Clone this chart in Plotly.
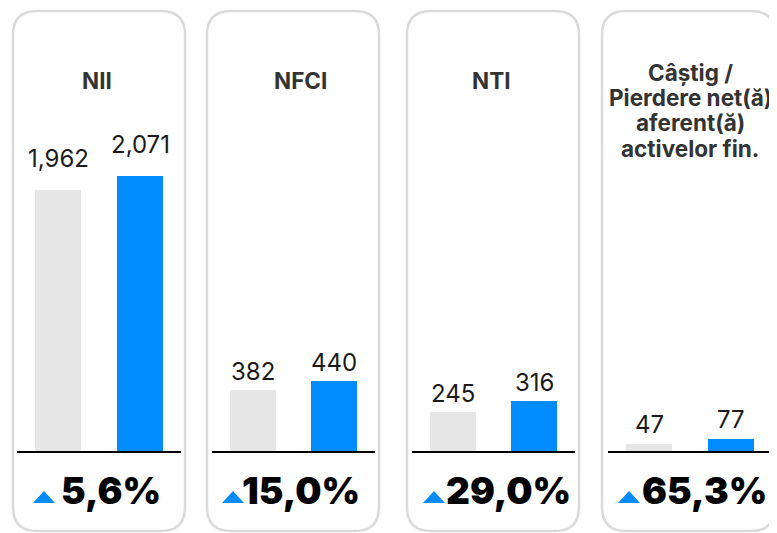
import plotly.graph_objects as go

# ---- data ----
titles = ["NII", "NFCI", "NTI", "Câștig /<br>Pierdere net(ă)<br>aferent(ă)<br>activelor fin."]
prev_values = [1962, 382, 245, 47]
curr_values = [2071, 440, 316, 77]
pct_labels = ["5,6%", "15,0%", "29,0%", "65,3%"]

# ---- layout helpers (window pixel -> paper; page body has an 8px margin) ----
W, H = 777, 533
OFF = 8
def X(px):
    return (px - OFF) / W
def Y(py):
    return 1 - (py - OFF) / H

panel_lr = [(13, 185), (207, 379), (407, 579), (602, 775)]
base_lr = [(17, 181), (212, 375), (412, 575), (608, 772)]
y_ranges = [2643, 2215, 2215, 2215]
title_xy = [(96.5, 81), (300, 81), (491, 81), (690, 72)]
title_line_gap = 25.5
label_shift = [15, 2, 2, 3]
pct_text_x = [59, 240, 444, 640]
tri_x = [33, 222, 423, 618]

GRAY = "#e6e6e6"
BLUE = "#008cff"

fig = go.Figure()
shapes = []
annotations = []

def rounded_rect(x0, y0, x1, y1, r):
    p = f"M {X(x0 + r)},{Y(y0)} L {X(x1 - r)},{Y(y0)} "
    p += f"Q {X(x1)},{Y(y0)} {X(x1)},{Y(y0 + r)} "
    p += f"L {X(x1)},{Y(y1 - r)} Q {X(x1)},{Y(y1)} {X(x1 - r)},{Y(y1)} "
    p += f"L {X(x0 + r)},{Y(y1)} Q {X(x0)},{Y(y1)} {X(x0)},{Y(y1 - r)} "
    p += f"L {X(x0)},{Y(y0 + r)} Q {X(x0)},{Y(y0)} {X(x0 + r)},{Y(y0)} Z"
    return p

for i in range(4):
    n = "" if i == 0 else str(i + 1)
    xa, ya = "x" + n, "y" + n
    fig.add_trace(go.Bar(
        x=[0, 1], y=[prev_values[i], curr_values[i]],
        marker=dict(color=[GRAY, BLUE], line=dict(width=0)),
        width=0.56, xaxis=xa, yaxis=ya, hoverinfo="skip", showlegend=False,
    ))
    bl, br = base_lr[i]
    fig.layout["xaxis" + n] = dict(
        domain=[X(bl), X(br)], range=[-0.5, 1.5], anchor=ya,
        showline=True, linecolor="black", linewidth=2,
        showticklabels=False, showgrid=False, zeroline=False, ticks="",
        fixedrange=True,
    )
    fig.layout["yaxis" + n] = dict(
        domain=[Y(451), Y(100)], range=[0, y_ranges[i]], anchor=xa,
        visible=False, fixedrange=True,
    )
    # panel border
    pl, pr = panel_lr[i]
    shapes.append(dict(type="path", xref="paper", yref="paper",
                       path=rounded_rect(pl, 11, pr, 531, 24),
                       line=dict(color="#dadada", width=2.5), layer="below"))
    # title (one annotation per line for tight line spacing)
    tx, ty = title_xy[i]
    for j, line in enumerate(titles[i].split("<br>")):
        annotations.append(dict(
            text=line, x=X(tx), y=Y(ty + j * title_line_gap), xref="paper", yref="paper",
            xanchor="center", yanchor="middle", showarrow=False,
            font=dict(family="Inter", size=22.5, color="#333333", weight="bold"),
        ))
    # value labels
    for k, v in enumerate([prev_values[i], curr_values[i]]):
        annotations.append(dict(
            text=f"{v:,}", x=k, y=v, xref=xa, yref=ya,
            xanchor="center", yanchor="bottom", yshift=label_shift[i],
            showarrow=False,
            font=dict(family="Inter", size=24, color="#1a1a1a"),
        ))
    # percentage
    annotations.append(dict(
        text=pct_labels[i], x=X(pct_text_x[i]), y=Y(490), xref="paper", yref="paper",
        xanchor="left", yanchor="middle", showarrow=False,
        font=dict(family="Inter", size=37, color="black", weight=900),
    ))
    # triangle
    t0 = tri_x[i]
    shapes.append(dict(type="path", xref="paper", yref="paper",
                       path=f"M {X(t0)},{Y(503)} L {X(t0 + 22)},{Y(503)} L {X(t0 + 11)},{Y(491)} Z",
                       fillcolor=BLUE, line=dict(width=0)))

fig.update_layout(
    width=W, height=H, margin=dict(l=0, r=0, t=0, b=0),
    paper_bgcolor="white", plot_bgcolor="rgba(0,0,0,0)",
    shapes=shapes, annotations=annotations, bargap=0,
)

fig.write_html("out.html")
